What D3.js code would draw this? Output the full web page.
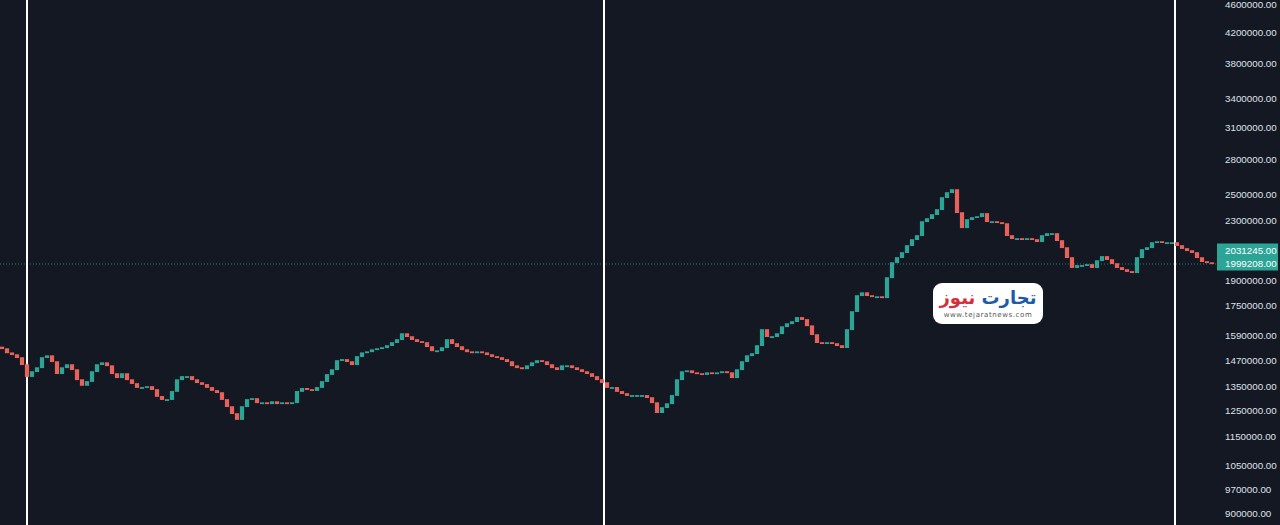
<!DOCTYPE html>
<html lang="en">
<head>
	<meta charset="utf-8">
	<title>Price chart</title>
	<script src="https://cdn.jsdelivr.net/npm/d3@7"></script>
	<style>
		body {
			padding: 0px;
			margin: 0px;
			background-color: #141823;
			overflow: hidden;
		}

		.price-label {
			font-family: "Liberation Sans", Arial, sans-serif;
			font-size: 9.8px;
			fill: #dfe1e8;
		}

		.last-label {
			font-family: "Liberation Sans", Arial, sans-serif;
			font-size: 9.8px;
			fill: #ffffff;
		}
	</style>
</head>

<body>
	<div id="chart"></div>
	<script>

		// Closing prices, in thousands, one per bar
		var closes = [
			1522, 1502, 1493, 1479, 1446, 1392, 1414, 1432, 1479, 1488,
			1460, 1405, 1432, 1446, 1423, 1378, 1353, 1370, 1414, 1446,
			1455, 1441, 1405, 1387, 1405, 1378, 1361, 1344, 1344, 1348,
			1335, 1306, 1293, 1293, 1327, 1378, 1392, 1392, 1378, 1365,
			1357, 1344, 1331, 1322, 1293, 1264, 1236, 1213, 1264, 1293,
			1297, 1280, 1280, 1276, 1284, 1276, 1280, 1276, 1280, 1327,
			1340, 1335, 1331, 1344, 1370, 1401, 1423, 1465, 1470, 1460,
			1446, 1484, 1502, 1507, 1517, 1522, 1527, 1537, 1552, 1567,
			1597, 1582, 1567, 1557, 1552, 1532, 1512, 1512, 1527, 1567,
			1547, 1532, 1517, 1507, 1502, 1507, 1502, 1493, 1484, 1479,
			1470, 1460, 1441, 1432, 1427, 1441, 1455, 1465, 1460, 1446,
			1432, 1423, 1441, 1441, 1432, 1423, 1414, 1405, 1392, 1378,
			1365, 1344, 1344, 1327, 1318, 1310, 1310, 1310, 1310, 1301,
			1280, 1240, 1260, 1276, 1310, 1378, 1414, 1418, 1409, 1405,
			1401, 1409, 1405, 1409, 1414, 1409, 1387, 1423, 1460, 1488,
			1498, 1537, 1618, 1582, 1582, 1597, 1633, 1649, 1660, 1682,
			1671, 1638, 1592, 1552, 1547, 1552, 1547, 1537, 1527, 1618,
			1714, 1804, 1821, 1804, 1798, 1798, 1792, 1911, 2005, 2038,
			2071, 2118, 2159, 2187, 2287, 2309, 2339, 2377, 2470, 2510,
			2534, 2354, 2243, 2302, 2317, 2324, 2347, 2287, 2287, 2280,
			2272, 2187, 2166, 2166, 2159, 2166, 2159, 2145, 2187, 2201,
			2201, 2152, 2104, 2038, 1974, 1987, 1987, 1993, 1974, 2018,
			2045, 2025, 1999, 1974, 1961, 1949, 1942, 2038, 2091, 2104,
			2138, 2145, 2138, 2138, 2138, 2118, 2098, 2084, 2071, 2038,
			2012, 2005, 1999.208
		];
		var firstOpen = 1530;

		// Right axis tick labels
		var tickPrices = [4600000, 4200000, 3800000, 3400000, 3100000, 2800000, 2500000, 2300000,
			1900000, 1750000, 1590000, 1470000, 1350000, 1250000, 1150000, 1050000, 970000, 900000];

		// Price badges on the axis
		var lastPrice = 1999208;
		var prevPrice = 2031245;

		// Session separators, as bar positions
		var separators = [5, 120.4, 234.6];

		// Define colors
		{
			var color_up = "#2ca597";
			var color_down = "#e8625a";
			var color_bg = "#141823";
		}

		// Build candles from the closes (open = previous close)
		var candles = closes.map(function (c, i) {
			return { i: i, open: i == 0 ? firstOpen : closes[i - 1], close: c };
		});

		var width = 1280,
			height = 525;

		var svg = d3.select("#chart")
			.append("svg")
			.attr("width", width)
			.attr("height", height);

		svg.append("rect")
			.attr("width", width)
			.attr("height", height)
			.attr("fill", color_bg);

		var x = d3.scaleLinear()
			.domain([0, closes.length - 1])
			.range([2, 1212]);

		var y = d3.scaleLog()
			.domain([900, 4600])
			.range([513, 4]);

		// Last price dotted line
		svg.append("line")
			.attr("x1", 0)
			.attr("x2", 1216)
			.attr("y1", y(lastPrice / 1000))
			.attr("y2", y(lastPrice / 1000))
			.attr("stroke", color_up)
			.attr("stroke-opacity", 0.7)
			.attr("stroke-dasharray", "1,2");

		// Vertical separators
		svg.selectAll("line.sep")
			.data(separators)
			.enter().append("line")
			.attr("class", "sep")
			.attr("x1", function (d) { return x(d); })
			.attr("x2", function (d) { return x(d); })
			.attr("y1", 0)
			.attr("y2", height)
			.attr("stroke", "#ffffff")
			.attr("stroke-width", 2);

		// Candles
		var bodyWidth = 4.2;
		svg.selectAll("rect.candle")
			.data(candles)
			.enter().append("rect")
			.attr("class", "candle")
			.attr("x", function (d) { return x(d.i) - bodyWidth / 2; })
			.attr("width", bodyWidth)
			.attr("y", function (d) { return y(Math.max(d.open, d.close)) - 0.8; })
			.attr("height", function (d) {
				return Math.max(1.8, Math.abs(y(d.open) - y(d.close)) + 0.8);
			})
			.attr("fill", function (d) { return d.close >= d.open ? color_up : color_down; });

		// Right axis
		var axis = d3.axisRight(y)
			.tickValues(tickPrices.map(function (p) { return p / 1000; }))
			.tickSize(0)
			.tickPadding(0)
			.tickFormat(function (d) { return (d * 1000).toFixed(2); });

		var gAxis = svg.append("g")
			.attr("transform", "translate(1225,0)")
			.call(axis);
		gAxis.select(".domain").remove();
		gAxis.selectAll("text")
			.attr("class", "price-label")
			.attr("fill", null)
			.attr("font-size", null)
			.attr("font-family", null);

		// Price badges
		var yLast = y(lastPrice / 1000);
		var badges = [
			{ value: prevPrice, top: yLast - 7 - 13.5 },
			{ value: lastPrice, top: yLast - 7 }
		];
		var gBadge = svg.selectAll("g.badge")
			.data(badges)
			.enter().append("g")
			.attr("class", "badge")
			.attr("transform", function (d) { return "translate(1217," + d.top + ")"; });
		gBadge.append("rect")
			.attr("width", 61)
			.attr("height", 13.5)
			.attr("fill", color_up);
		gBadge.append("text")
			.attr("class", "last-label")
			.attr("x", 8)
			.attr("y", 7)
			.attr("dy", "0.35em")
			.text(function (d) { return d.value.toFixed(2); });

		// Watermark logo
		var logo = svg.append("g")
			.attr("transform", "translate(933,283)");
		logo.append("rect")
			.attr("width", 110)
			.attr("height", 41)
			.attr("rx", 9)
			.attr("fill", "#ffffff");
		var brand = logo.append("text")
			.attr("x", 55)
			.attr("y", 21)
			.attr("text-anchor", "middle")
			.attr("direction", "rtl")
			.attr("font-family", "DejaVu Sans")
			.attr("font-weight", "bold")
			.attr("font-size", 18);
		brand.append("tspan")
			.attr("fill", "#1d5ba8")
			.text("تجارت ");
		brand.append("tspan")
			.attr("fill", "#d42e3a")
			.text("نیوز");
		logo.append("text")
			.attr("x", 55)
			.attr("y", 34)
			.attr("text-anchor", "middle")
			.attr("font-family", "DejaVu Sans")
			.attr("font-size", 7)
			.attr("letter-spacing", 0.6)
			.attr("fill", "#555555")
			.text("www.tejaratnews.com");

	</script>
</body>
</html>
